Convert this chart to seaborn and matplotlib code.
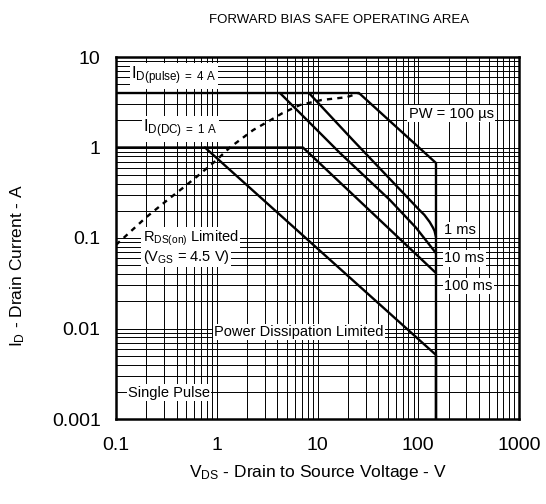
import numpy as np
import pandas as pd
import matplotlib
matplotlib.use("Agg")
import matplotlib.pyplot as plt
import seaborn as sns

# safe operating area curves (V in volts, I in amps)
v_100us = [0.1, 25.8, 150, 150]
i_100us = [4, 4, 0.674, 0.001]

v_1ms = [8.22, 22.4, 82.6, 100, 115, 130, 140, 145, 150]
i_1ms = [4, 1.21, 0.263, 0.21, 0.18, 0.15, 0.13, 0.12, 0.103]

v_10ms = [4.24, 16.7, 52.3, 95, 150]
i_10ms = [4, 0.87, 0.263, 0.13, 0.068]

v_100ms = [0.1, 7.17, 150]
i_100ms = [1, 1, 0.041]

v_dc = [0.764, 150, 150]
i_dc = [1, 0.0051, 0.001]

# RDS(on) limit (dashed)
v_rds = [0.1, 0.2, 0.32, 0.45, 0.64, 1.0, 1.35, 2.3, 3.4, 4.5, 6.7, 11, 19.6, 25.8]
i_rds = [0.084, 0.17, 0.26, 0.35, 0.48, 0.73, 1.0, 1.56, 2.0, 2.4, 2.95, 3.35, 3.6, 4.0]

x_ticks = [0.1, 1, 10, 100, 1000]
x_labels = ["0.1", "1", "10", "100", "1000"]
y_ticks = [0.001, 0.01, 0.1, 1, 10]
y_labels = ["0.001", "0.01", "0.1", "1", "10"]

sns.set_style("white")
plt.rcParams['font.family'] = ['Liberation Sans', 'DejaVu Sans']
plt.rcParams['mathtext.fontset'] = 'custom'
plt.rcParams['mathtext.rm'] = 'Liberation Sans'
plt.rcParams['mathtext.it'] = 'Liberation Sans:italic'
plt.rcParams['text.color'] = 'black'
plt.rcParams['xtick.color'] = 'black'
plt.rcParams['ytick.color'] = 'black'

curves = {
    "100us": (v_100us, i_100us),
    "1ms": (v_1ms, i_1ms),
    "10ms": (v_10ms, i_10ms),
    "100ms": (v_100ms, i_100ms),
    "DC": (v_dc, i_dc),
}
df = pd.concat([pd.DataFrame({"curve": k, "V": v, "I": i}) for k, (v, i) in curves.items()])
rds = pd.DataFrame({"V": v_rds, "I": i_rds})

fig = plt.figure(figsize=(5.46, 5.04), dpi=100)
ax = fig.add_axes([116/546, 1-419/504, 403/546, 362/504])
ax.set_xscale("log")
ax.set_yscale("log")

sns.lineplot(data=df, x="V", y="I", units="curve", estimator=None, sort=False,
             color="black", linewidth=1.7, ax=ax)
sns.lineplot(data=rds, x="V", y="I", estimator=None, sort=False,
             color="black", linewidth=1.7, dashes=False, ax=ax)
ax.lines[-1].set_dashes((2.2, 2.2))

ax.set_xlim(0.1, 1000)
ax.set_ylim(0.001, 10)
ax.set_xticks(x_ticks)
ax.set_xticklabels(x_labels)
ax.set_yticks(y_ticks)
ax.set_yticklabels(y_labels)
ax.xaxis.set_minor_locator(matplotlib.ticker.LogLocator(base=10, subs=np.arange(2, 10)))
ax.yaxis.set_minor_locator(matplotlib.ticker.LogLocator(base=10, subs=np.arange(2, 10)))
ax.xaxis.set_minor_formatter(matplotlib.ticker.NullFormatter())
ax.yaxis.set_minor_formatter(matplotlib.ticker.NullFormatter())
ax.grid(which="both", color="black", linewidth=0.7)
ax.set_axisbelow(True)
ax.tick_params(which="both", length=0, labelsize=14)
ax.tick_params(axis="x", pad=13)
ax.tick_params(axis="y", pad=11)
ax.set_xlabel("")
ax.set_ylabel("")
for s in ax.spines.values():
    s.set_linewidth(1.8)
    s.set_color("black")

box = dict(facecolor="white", edgecolor="none", pad=1.0)
fs = 10.5
ax.text(0.141, 6.17, r"$\mathregular{I_{D(pulse)\ =\ 4\ A}}$", fontsize=12, ha="left", va="center", bbox=box)
ax.text(0.185, 1.6, r"$\mathregular{I_{D(DC)\ =\ 1\ A}}$", fontsize=12, ha="left", va="center", bbox=box)
ax.text(80.7, 2.35, "PW = 100 µs", fontsize=fs, ha="left", va="center", bbox=box)
ax.text(180, 0.1225, "1 ms", fontsize=fs, ha="left", va="center", bbox=box)
ax.text(180, 0.060, "10 ms", fontsize=fs, ha="left", va="center", bbox=box)
ax.text(180, 0.0295, "100 ms", fontsize=fs, ha="left", va="center", bbox=box)
ax.text(0.185, 0.1, r"$\mathregular{R_{DS(on)}}$ Limited", fontsize=fs, ha="left", va="center", bbox=box)
ax.text(0.185, 0.0617, r"($\mathregular{V_{GS}}$ = 4.5 V)", fontsize=fs, ha="left", va="center", bbox=box)
ax.text(0.94, 0.00914, "Power Dissipation Limited", fontsize=fs, ha="left", va="center", bbox=box)
ax.text(0.1315, 0.00194, "Single Pulse", fontsize=fs, ha="left", va="center", bbox=box)

fig.text(339/546, 1-20/504, "FORWARD BIAS SAFE OPERATING AREA", fontsize=9.5, ha="center", va="center")
fig.text(318/546, 1-473/504, r"$\mathregular{V_{DS}}$ - Drain to Source Voltage - V", fontsize=12.5, ha="center", va="center")
fig.text(18/546, 238/504, r"$\mathregular{I_D}$ - Drain Current - A", fontsize=12.5, ha="center", va="center", rotation=90)

fig.savefig("out.png", dpi=100)
